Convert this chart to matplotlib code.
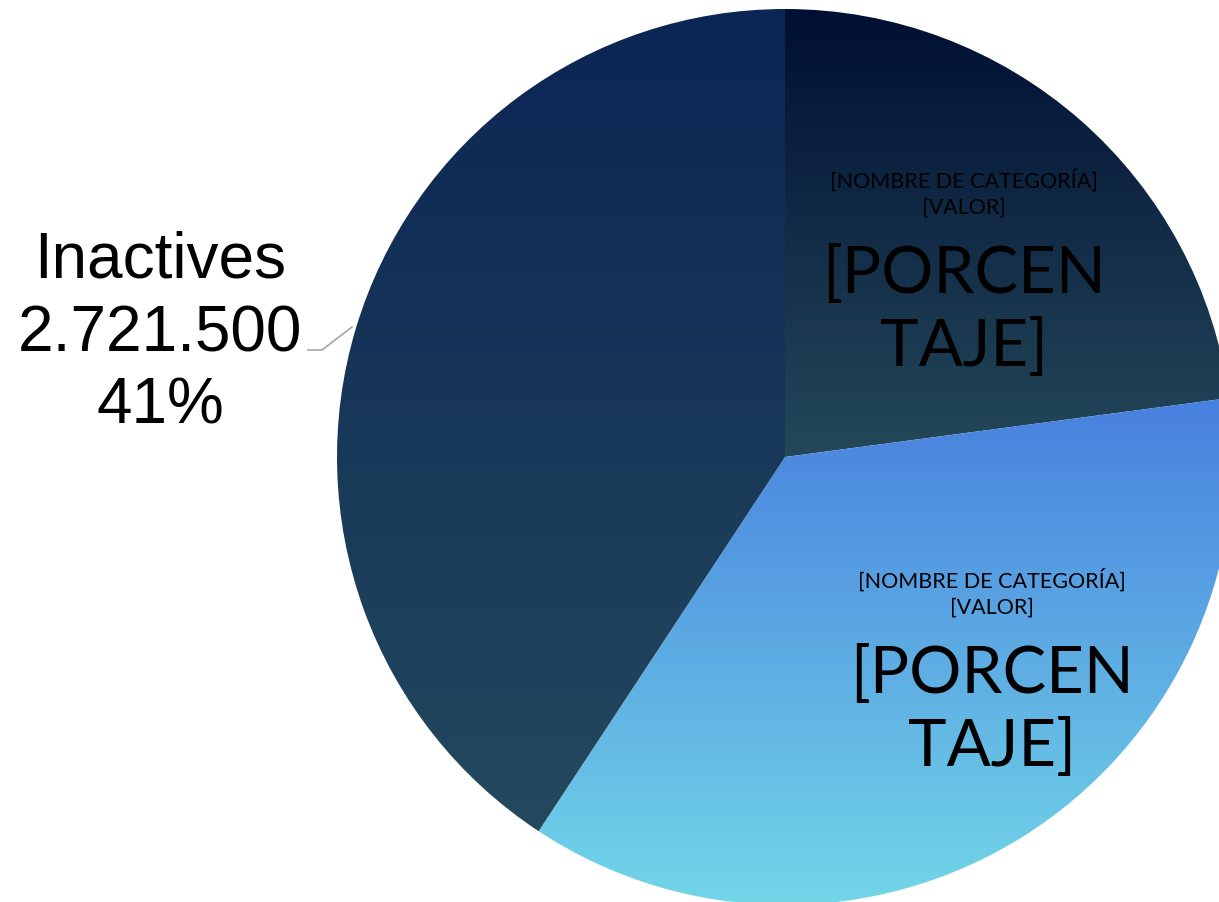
import numpy as np
import matplotlib
matplotlib.use('Agg')
import matplotlib.pyplot as plt
from matplotlib.colors import to_rgb

# data
labels = ['[NOMBRE DE CATEGORÍA]', '[NOMBRE DE CATEGORÍA]', 'Inactives']
values = [1530000, 2430000, 2721500]
# gradient colours per slice (top, bottom)
grad_top = ['#000f33', '#4880de', '#0b2554']
grad_bottom = ['#24485a', '#72d6e8', '#24495e']

W, H = 1219, 903
fig = plt.figure(figsize=(W / 100, H / 100), dpi=100)
ax = fig.add_axes([0, 0, 1, 1])

cx, cy, r = 785, H - 458, 448
wedges, _ = ax.pie(values, center=(cx, cy), radius=r, startangle=90, counterclock=False,
                   wedgeprops=dict(linewidth=0, edgecolor='none'), frame=True)
ax.set_xlim(0, W)
ax.set_ylim(0, H)
ax.set_aspect('equal')
ax.axis('off')

# vertical gradient inside each wedge
for w, top, bottom in zip(wedges, grad_top, grad_bottom):
    w.set_facecolor('none')
    bb = w.get_path().get_extents()
    t = np.linspace(0, 1, 256)[:, None]
    c0, c1 = np.array(to_rgb(bottom)), np.array(to_rgb(top))
    img = (c0 + (c1 - c0) * t)[:, None, :]
    im = ax.imshow(img, extent=(bb.x0, bb.x1, bb.y0, bb.y1), origin='lower',
                   aspect='auto', interpolation='bilinear', zorder=1)
    im.set_clip_path(w)

ax.set_xlim(0, W)
ax.set_ylim(0, H)

fut = ['Lato', 'DejaVu Sans']


def slice_label(x, y, name, val):
    ax.text(x, H - y, name, ha='center', va='center', fontsize=15.5, family=fut, zorder=3)
    ax.text(x, H - y - 28, val, ha='center', va='center', fontsize=15.5, family=fut, zorder=3)
    ax.text(x, H - y - 94, '[PORCEN', ha='center', va='center', fontsize=47, family=fut, zorder=3)
    ax.text(x, H - y - 167, 'TAJE]', ha='center', va='center', fontsize=47, family=fut, zorder=3)


slice_label(964, 180, labels[0], '[VALOR]')
slice_label(992, 580, labels[1], '[VALOR]')

# outside label for Inactives
share = values[2] / sum(values)
inact = [labels[2], f'{values[2]:,}'.replace(',', '.'), f'{share:.0%}']
for i, s in enumerate(inact):
    ax.text(160, H - 261 - 73 * i, s, ha='center', va='center', fontsize=46,
            family='Liberation Sans', zorder=3)
ax.plot([308, 322, 352], [H - 351, H - 351, H - 328], color='#a6a6a6', lw=1.2, zorder=3)

fig.savefig('out.png', dpi=100)
